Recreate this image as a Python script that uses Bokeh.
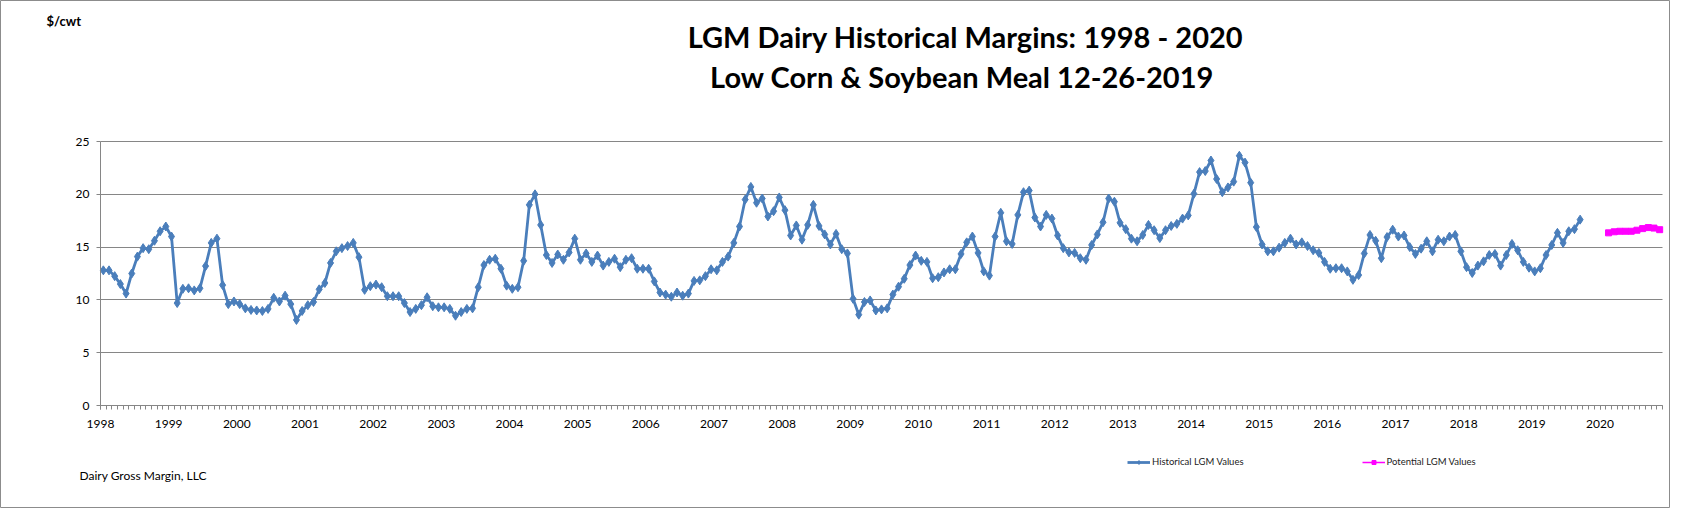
from bokeh.plotting import figure
from bokeh.models import Range1d, FixedTicker, Legend, LegendItem, Label
from bokeh.embed import file_html
from bokeh.resources import INLINE

# ---------------- data ----------------
hist_start = (1998, 1)   # first month of the historical series
hist_1998 = [12.8, 12.8, 12.25, 11.5, 10.6, 12.5, 14.1, 14.9, 14.8, 15.6, 16.5, 16.95]
hist_1999 = [16.0, 9.7, 11.05, 11.1, 10.9, 11.1, 13.2, 15.4, 15.8, 11.4, 9.6, 9.85]
hist_2000 = [9.6, 9.2, 9.05, 9.0, 8.95, 9.15, 10.2, 9.85, 10.4, 9.6, 8.1, 8.95]
hist_2001 = [9.5, 9.8, 11.0, 11.6, 13.5, 14.6, 14.9, 15.1, 15.4, 14.05, 10.95, 11.3]
hist_2002 = [11.45, 11.2, 10.35, 10.35, 10.35, 9.7, 8.85, 9.15, 9.5, 10.25, 9.4, 9.3]
hist_2003 = [9.3, 9.15, 8.5, 8.85, 9.15, 9.2, 11.2, 13.3, 13.8, 13.9, 12.95, 11.35]
hist_2004 = [11.05, 11.2, 13.7, 19.0, 20.0, 17.1, 14.25, 13.5, 14.3, 13.8, 14.5, 15.8]
hist_2005 = [13.8, 14.4, 13.6, 14.2, 13.25, 13.6, 13.9, 13.1, 13.8, 13.95, 12.95, 12.95]
hist_2006 = [12.95, 11.75, 10.7, 10.5, 10.3, 10.7, 10.4, 10.6, 11.8, 11.85, 12.25, 12.9]
hist_2007 = [12.8, 13.6, 14.1, 15.4, 16.95, 19.5, 20.7, 19.2, 19.6, 17.9, 18.4, 19.7]
hist_2008 = [18.5, 16.1, 17.05, 15.7, 17.1, 19.0, 17.0, 16.2, 15.25, 16.25, 14.8, 14.4]
hist_2009 = [10.1, 8.6, 9.8, 9.95, 9.0, 9.1, 9.2, 10.5, 11.25, 12.0, 13.3, 14.2]
hist_2010 = [13.7, 13.6, 12.05, 12.15, 12.6, 12.9, 12.9, 14.35, 15.45, 16.0, 14.45, 12.7]
hist_2011 = [12.3, 16.0, 18.25, 15.55, 15.3, 18.05, 20.2, 20.35, 17.8, 16.95, 18.05, 17.7]
hist_2012 = [16.1, 14.9, 14.5, 14.45, 13.95, 13.8, 15.2, 16.2, 17.35, 19.6, 19.3, 17.3]
hist_2013 = [16.7, 15.8, 15.55, 16.15, 17.1, 16.6, 15.85, 16.6, 17.0, 17.2, 17.7, 18.0]
hist_2014 = [20.05, 22.1, 22.2, 23.2, 21.45, 20.2, 20.65, 21.2, 23.65, 23.0, 21.1, 16.9]
hist_2015 = [15.25, 14.6, 14.6, 14.95, 15.4, 15.8, 15.25, 15.45, 15.1, 14.7, 14.45, 13.6]
hist_2016 = [12.95, 13.0, 13.0, 12.7, 11.9, 12.35, 14.4, 16.15, 15.6, 13.95, 15.95, 16.65]
hist_2017 = [16.0, 16.1, 15.0, 14.35, 14.85, 15.55, 14.6, 15.7, 15.55, 16.0, 16.15, 14.6]
hist_2018 = [13.1, 12.55, 13.25, 13.65, 14.25, 14.35, 13.25, 14.25, 15.3, 14.7, 13.6, 13.05]
hist_2019 = [12.7, 13.0, 14.25, 15.2, 16.35, 15.4, 16.5, 16.7, 17.6]

potential_start = (2020, 2)  # first month of the potential series
potential_values = [16.35, 16.45, 16.5, 16.5, 16.5, 16.6, 16.75, 16.85, 16.8, 16.65]

year_labels = [str(y) for y in range(1998, 2021)]
y_ticks = [0, 5, 10, 15, 20, 25]
axis_first_month = (1998, 1)
axis_n_months = 275          # category axis: Jan 1998 .. Nov 2020

title_1 = "LGM Dairy Historical Margins: 1998 - 2020"
title_2 = "Low Corn & Soybean Meal  12-26-2019"
unit_text = "$/cwt"
source_text = "Dairy Gross Margin, LLC"
legend_hist = "Historical LGM Values"
legend_pot = "Potential LGM Values"

# ---------------- derived ----------------
hist_values = (hist_1998 + hist_1999 + hist_2000 + hist_2001 + hist_2002 + hist_2003 +
               hist_2004 + hist_2005 + hist_2006 + hist_2007 + hist_2008 + hist_2009 +
               hist_2010 + hist_2011 + hist_2012 + hist_2013 + hist_2014 + hist_2015 +
               hist_2016 + hist_2017 + hist_2018 + hist_2019)


def month_centers(start, n):
    y0, m0 = start
    return [y0 + (m0 - 1 + k + 0.5) / 12.0 for k in range(n)]


hist_x = month_centers(hist_start, len(hist_values))
pot_x = month_centers(potential_start, len(potential_values))

x_lo = axis_first_month[0] + (axis_first_month[1] - 1) / 12.0
x_hi = x_lo + axis_n_months / 12.0
y_lo, y_hi = y_ticks[0], y_ticks[-1]

FONT = "Lato"
BLUE = "#4A7EBB"
PINK = "#FF00FF"
GRID = "#868686"
W, H = 1670, 508
# plot-area edges on the canvas (px)
PL, PR, PT, PB = 100, 1662, 141, 405


def dx(cx):
    return x_lo + (cx - PL) / (PR - PL) * (x_hi - x_lo)


def dy(cy):
    return y_lo + (PB - cy) / (PB - PT) * (y_hi - y_lo)


p = figure(width=W, height=H, output_backend="svg", toolbar_location=None,
           x_range=Range1d(dx(0), dx(W)), y_range=Range1d(dy(H), dy(0)),
           min_border_left=0, min_border_right=0, min_border_top=0, min_border_bottom=0)
p.outline_line_color = "#8c8c8c"
p.background_fill_color = "white"
p.border_fill_color = "white"

# axes drawn at the data origin
year_ticks = [int(s) for s in year_labels]
month_ticks = [x_lo + k / 12.0 for k in range(axis_n_months + 1)]
xa = p.xaxis[0]
ya = p.yaxis[0]
xa.ticker = FixedTicker(ticks=year_ticks, minor_ticks=month_ticks)
xa.major_label_overrides = {t: s for t, s in zip(year_ticks, year_labels)}
ya.ticker = FixedTicker(ticks=y_ticks)
xa.fixed_location = y_lo
ya.fixed_location = x_lo
xa.bounds = (x_lo, x_hi)
ya.bounds = (y_lo, y_hi)
for ax in (xa, ya):
    ax.axis_line_color = GRID
    ax.major_tick_line_color = GRID
    ax.minor_tick_line_color = GRID
    ax.major_tick_in = 0
    ax.major_tick_out = 4
    ax.minor_tick_in = 0
    ax.major_label_text_font = FONT
    ax.major_label_text_font_size = "12px"
    ax.major_label_text_color = "#000000"
xa.major_label_standoff = 10
ya.major_label_standoff = 7
xa.minor_tick_out = 4
ya.minor_tick_out = 0
p.xgrid.visible = False
p.ygrid.grid_line_color = GRID
p.ygrid.grid_line_width = 1
try:
    p.ygrid.cross_bounds = (x_lo, x_hi)
except Exception:
    p.ygrid.visible = False
    p.segment(x0=[x_lo] * len(y_ticks), x1=[x_hi] * len(y_ticks), y0=y_ticks, y1=y_ticks,
              line_color=GRID, line_width=1)

# series
r1 = p.line(hist_x, hist_values, line_color=BLUE, line_width=2.8)
r2 = p.scatter(hist_x, hist_values, marker="diamond", size=9, fill_color=BLUE, line_color=BLUE)
r3 = p.line(pot_x, potential_values, line_color=PINK, line_width=1.5)
r4 = p.scatter(pot_x, potential_values, marker="square", size=6, fill_color=PINK, line_color=PINK)

legend = Legend(items=[LegendItem(label=legend_hist, renderers=[r1, r2]),
                       LegendItem(label=legend_pot, renderers=[r3, r4])],
                orientation="horizontal", location=(1127, H - 467),
                spacing=118, glyph_width=23, glyph_height=10, label_standoff=2,
                label_text_font=FONT, label_text_font_size="9.5px", label_text_color="#222222",
                padding=0, margin=0, border_line_color=None, background_fill_alpha=0,
                label_height=10)
p.add_layout(legend)

# texts
for txt, cx, cy, size, style, align in [
        (title_1, 965, 35.5, "29px", "bold", "center"),
        (title_2, 965, 76.0, "29px", "bold", "center"),
        (unit_text, 46, 20, "13px", "bold", "left"),
        (source_text, 79, 475, "12px", "normal", "left")]:
    p.add_layout(Label(x=dx(cx), y=dy(cy), text=txt, text_align=align,
                       text_baseline="middle", text_font=FONT, text_font_style=style,
                       text_font_size=size, text_color="#000000"))

open("out.html", "w").write(file_html(p, INLINE))
